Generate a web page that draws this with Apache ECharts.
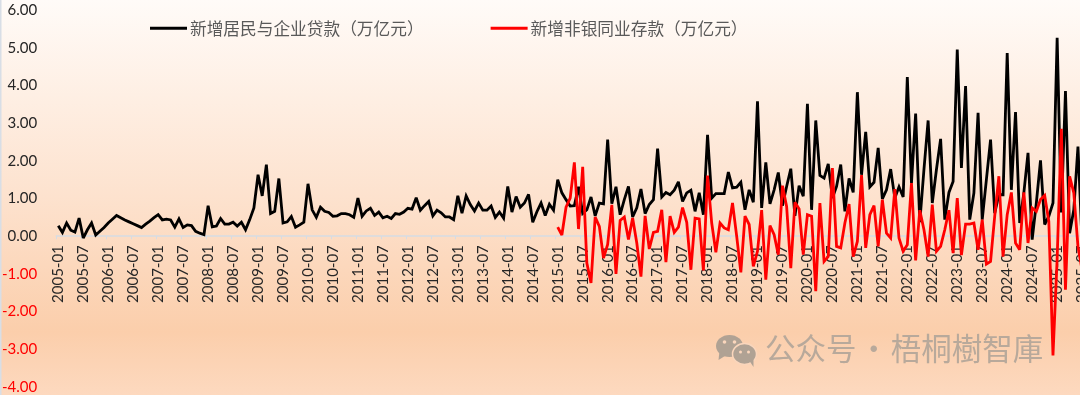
<!DOCTYPE html>
<html>
<head>
<meta charset="utf-8">
<style>html,body{margin:0;padding:0;background:#fff}#c{width:1080px;height:395px}</style>
<script src="https://cdn.jsdelivr.net/npm/echarts@6/dist/echarts.min.js"></script>
</head>
<body>
<div id="c"></div>
<script>
const firstYear = 2005;
const loanName = '新增居民与企业贷款（万亿元）';
const depositName = '新增非银同业存款（万亿元）';
const watermark = '公众号\u200a·\u200a梧桐樹智庫';

// 2005-01 .. 2025-07, monthly
const loans = [
 .28,.10,.35,.16,.11,.48,-.05,.17,.35,.03,.13,.23,
 .35,.45,.55,.49,.43,.38,.33,.28,.23,.32,.40,.49,
 .57,.43,.45,.43,.24,.46,.23,.30,.28,.13,.08,.04,
 .81,.25,.27,.47,.32,.32,.37,.27,.37,.17,.44,.75,
 1.63,1.07,1.90,.60,.66,1.53,.35,.38,.52,.24,.30,.37,
 1.39,.70,.50,.77,.66,.63,.53,.54,.60,.60,.57,.50,
 1.01,.53,.67,.74,.55,.64,.49,.53,.47,.60,.58,.64,
 .74,.72,1.02,.69,.81,.92,.54,.69,.62,.51,.51,.44,
 1.07,.61,1.07,.84,.67,.88,.69,.69,.80,.50,.64,.48,
 1.32,.64,1.05,.77,.88,1.11,.37,.65,.88,.55,.85,.69,
 1.50,1.15,.97,.80,.81,1.31,.60,.70,1.04,.54,.88,.86,
 2.56,.86,1.31,.57,.97,1.32,.51,.75,1.25,.60,.84,.97,
 2.32,1.04,1.16,1.10,1.22,1.44,.92,1.15,1.22,.66,1.15,.57,
 2.69,1.01,1.13,1.13,1.13,1.70,1.28,1.30,1.43,.70,1.23,.90,
 3.58,.75,1.96,.86,1.23,1.69,.81,1.32,1.79,.54,1.34,1.06,
 3.51,.70,3.07,1.61,1.54,1.92,1.01,1.32,1.90,.66,1.53,1.16,
 3.82,1.63,2.77,1.31,1.43,2.34,.99,1.23,1.78,1.01,1.31,1.04,
 4.22,1.41,3.25,.37,1.77,3.07,.88,1.77,2.58,.44,1.16,1.45,
 4.95,1.81,3.98,.44,1.15,3.27,.44,1.50,2.56,.61,1.10,1.10,
 4.86,1.23,3.29,.35,1.15,2.21,-.09,.88,2.01,.31,.53,.88,
 5.26,.63,3.85,.08,.70,2.38,-.20
];

// 2015-01 .. 2025-07, monthly
const deposits = [
 .24,.03,.77,1.01,1.96,.19,1.84,-.71,-1.24,.51,.26,-.58,
 -.22,.83,-1.00,.42,.51,-.09,.48,-.18,-1.07,.54,-.34,.10,
 .13,.70,-.69,.53,.10,.24,.76,.37,-.89,.48,.46,-.91,
 1.61,.35,-.43,.35,.22,.17,.88,.00,-.96,.53,.31,-.80,
 -.40,.69,-1.15,.28,.04,-.49,1.34,.79,-.85,.90,.72,-.49,
 .57,.53,-1.46,.88,-.67,-.54,1.81,-.27,-.31,.35,.85,-.54,
 -.14,1.62,-.31,.57,.81,-.27,.97,.08,-.05,1.25,-.05,-.40,
 -.23,1.41,-.64,.69,.17,-.54,.84,-.40,-.27,.17,.69,-.45,
 1.01,-.50,.32,.32,.35,-.36,.44,-.74,-.67,.53,1.59,-.54,
 .57,1.16,-.18,-.36,1.16,-.18,.75,.66,.97,1.08,.39,-3.16,
 -.60,2.85,-1.42,1.59,1.15,-.27,-.90
];

const yTicks = [-4, 6, 1];

const months = loans.map((_, i) => {
  const y = firstYear + Math.floor(i / 12);
  const m = String(i % 12 + 1).padStart(2, '0');
  return y + '-' + m;
});
const depositsFull = new Array(loans.length - deposits.length).fill(null).concat(deposits);

const chart = echarts.init(document.getElementById('c'), null, {renderer: 'canvas'});
chart.setOption({
  animation: false,
  backgroundColor: {
    type: 'linear', x: 0, y: 0, x2: 0, y2: 1,
    colorStops: [
      {offset: 0, color: '#FFFBF8'},
      {offset: 0.5, color: '#FDE2CE'},
      {offset: 0.84, color: '#FBCEAB'},
      {offset: 1, color: '#FDD9BF'}
    ]
  },
  grid: {left: 56.2, right: -4.2, top: 10, bottom: 8, outerBoundsMode: 'none', containLabel: false},
  legend: {
    left: 150, top: 20, padding: 0, itemWidth: 37, itemHeight: 3, itemGap: 67, icon: 'rect',
    textStyle: {fontFamily: '"Noto Sans CJK SC"', fontSize: 16.7, color: '#595959', padding: [0, 0, 0, -2]},
    data: [loanName, depositName]
  },
  xAxis: {
    type: 'category', data: months, boundaryGap: true, position: 'bottom', offset: -150.8,
    axisLine: {onZero: false, lineStyle: {color: '#D5DCE4', width: 1.5}},
    axisTick: {show: true, interval: 5, length: 3, lineStyle: {color: '#D5DCE4'}},
    axisLabel: {
      interval: 5, rotate: 90, margin: 9, fontFamily: 'Lato', fontSize: 15, color: '#262626',
      hideOverlap: false, showMaxLabel: true
    },
    splitLine: {show: false}
  },
  yAxis: {
    type: 'value', min: yTicks[0], max: yTicks[1], interval: yTicks[2],
    axisLine: {show: false}, axisTick: {show: false}, splitLine: {show: false},
    axisLabel: {
      margin: 19, fontFamily: 'Lato', fontSize: 15,
      color: v => v < 0 ? '#FF0000' : '#262626',
      formatter: v => v.toFixed(2)
    }
  },
  series: [
    {name: loanName, type: 'line', data: loans, showSymbol: false, symbol: 'none', silent: true,
     connectNulls: false, color: '#000000', lineStyle: {color: '#000000', width: 2.8, join: 'miter', miterLimit: 3}, z: 2},
    {name: depositName, type: 'line', data: depositsFull, showSymbol: false, symbol: 'none', silent: true,
     connectNulls: false, color: '#FF0000', lineStyle: {color: '#FF0000', width: 2.8, join: 'miter', miterLimit: 3}, z: 3}
  ],
  graphic: [
    {type: 'rect', left: 0, top: 0, shape: {width: 1.5, height: 395}, style: {fill: '#D8DEE6'}, silent: true},
    {type: 'group', left: 716, top: 335, silent: true, children: [
      {type: 'ellipse', shape: {cx: 14, cy: 11, rx: 13.5, ry: 11}, style: {fill: '#B0A294'}},
      {type: 'polygon', shape: {points: [[4, 16], [3, 25], [11, 20]]}, style: {fill: '#B0A294'}},
      {type: 'ellipse', shape: {cx: 29, cy: 19, rx: 12, ry: 10.5}, style: {fill: '#B0A294', stroke: '#FAD6BC', lineWidth: 1.5}},
      {type: 'polygon', shape: {points: [[34, 26], [38, 32], [38, 24]]}, style: {fill: '#B0A294'}},
      {type: 'circle', shape: {cx: 9, cy: 7, r: 1.8}, style: {fill: '#FAD6BC'}},
      {type: 'circle', shape: {cx: 19, cy: 7, r: 1.8}, style: {fill: '#FAD6BC'}},
      {type: 'circle', shape: {cx: 25, cy: 17, r: 1.5}, style: {fill: '#FAD6BC'}},
      {type: 'circle', shape: {cx: 33, cy: 17, r: 1.5}, style: {fill: '#FAD6BC'}}
    ]},
    {type: 'text', left: 765, top: 333, silent: true,
     style: {text: watermark, fill: '#B8A99B', font: '400 30.5px "Noto Sans CJK SC"'}}
  ]
});
</script>
</body>
</html>
